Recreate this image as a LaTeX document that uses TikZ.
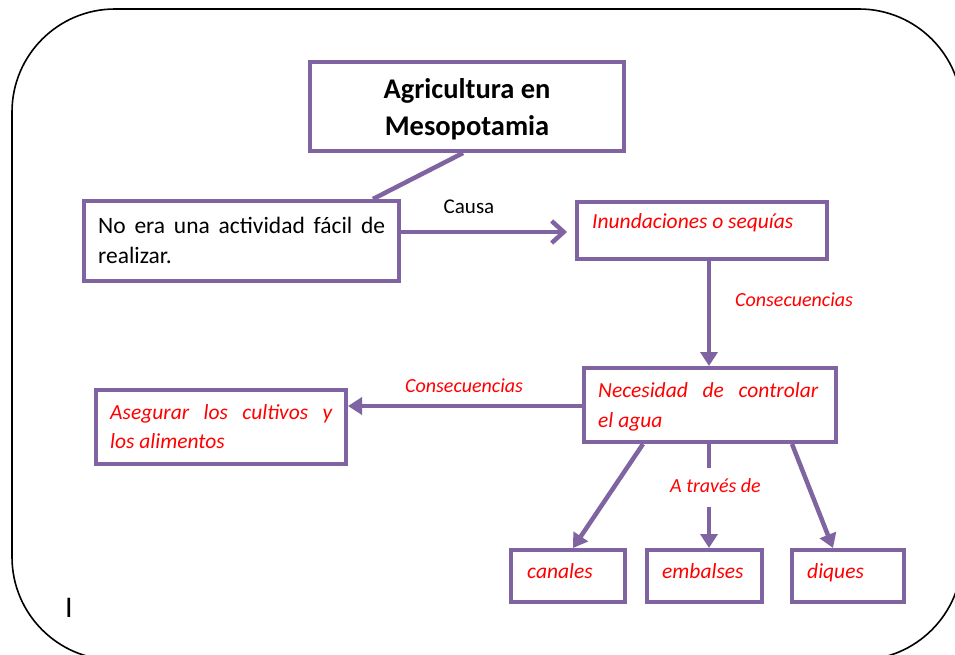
\documentclass[tikz,border=0pt]{standalone}
\usepackage{fontspec}
\setmainfont{Carlito}
\usetikzlibrary{arrows.meta}
\definecolor{pur}{HTML}{8064A2}
\definecolor{rd}{HTML}{FF0000}
\begin{document}
\begin{tikzpicture}[x=1pt,y=-1pt,
  box/.style={draw=pur, line width=4pt, fill=white, inner sep=0pt},
  conn/.style={draw=pur, line width=4.5pt},
  arr/.style={conn, -{Triangle[length=14pt,width=17pt]}},
  barb/.style={conn, -{Straight Barb[length=12pt,width=22pt]}},
  ttl/.style={font=\fontsize{28.5}{30}\selectfont\bfseries, inner sep=0pt, anchor=base},
  txt/.style={font=\fontsize{23.5}{26}\selectfont, inner sep=0pt, anchor=base west},
  lbl/.style={font=\fontsize{21}{22}\selectfont, inner sep=0pt, anchor=base west},
  rtxt/.style={font=\fontsize{21.5}{24}\selectfont\itshape, text=rd, inner sep=0pt, anchor=base west},
  rlbl/.style={rtxt, font=\fontsize{20}{24}\selectfont\itshape}]
\useasboundingbox (0,0) rectangle (955,654);
\clip (0,0) rectangle (955,654);
\fill[white] (0,0) rectangle (955,654);
\draw[line width=1.6pt, rounded corners=103pt] (12,9) rectangle (962,660);

% boxes
\node[box, minimum width=314pt, minimum height=89pt] (title) at (467,106.5) {};
\node[box, minimum width=315pt, minimum height=80pt] (noera) at (241.5,241) {};
\node[box, minimum width=250pt, minimum height=57pt] (inund) at (702,230.5) {};
\node[box, minimum width=252pt, minimum height=74pt] (neces) at (710,405) {};
\node[box, minimum width=250pt, minimum height=74pt] (aseg) at (221,427) {};
\node[box, minimum width=114pt, minimum height=52pt] (canales) at (568,576) {};
\node[box, minimum width=115pt, minimum height=52pt] (emb) at (704.5,576) {};
\node[box, minimum width=112pt, minimum height=52pt] (diques) at (848,576) {};

% texts
\node[ttl] (t1) at (467,98) {Agricultura en};
\node[ttl] (t2) at (467,135) {Mesopotamia};
\node[txt] (n1) at (98,233) {\makebox[287pt][s]{No era una actividad fácil de}};
\node[txt] (n2) at (98,263) {realizar.};
\node[lbl, anchor=base] (causa) at (469,213) {Causa};
\node[rtxt] (i1) at (592,228) {Inundaciones o sequías};
\node[rlbl] (c1) at (735,306) {Consecuencias};
\node[rtxt] (ne1) at (598,397) {\makebox[220pt][s]{Necesidad de controlar}};
\node[rtxt] (ne2) at (598,427) {el agua};
\node[rlbl] (c2) at (405,392) {Consecuencias};
\node[rtxt] (a1) at (110,419) {\makebox[222pt][s]{Asegurar los cultivos y}};
\node[rtxt] (a2) at (110,448) {los alimentos};
\node[rlbl] (atv) at (670,492) {A través de};
\node[rtxt] (tc) at (527,578) {canales};
\node[rtxt] (te) at (662,578) {embalses};
\node[rtxt] (td) at (807,578) {diques};
\node[font=\fontsize{30}{30}\selectfont, inner sep=0pt, anchor=base west] (cur) at (65,617) {I};

% connectors
\draw[conn] ([xshift=-4pt]title.south) -- ([xshift=131.5pt]noera.north);
\draw[barb, shorten >=8pt] ([yshift=9pt]noera.east) -- ([yshift=9pt]noera.east -| inund.west);
\draw[arr] ([xshift=7pt]inund.south) -- ([xshift=7pt]inund.south |- neces.north);
\draw[arr] ([yshift=-1pt]neces.west) -- ([yshift=-1pt]neces.west -| aseg.east);
\draw[arr] ([xshift=-67pt]neces.south) -- ([xshift=5pt]canales.north);
\draw[conn] ([xshift=-1pt]neces.south) -- ([xshift=-1pt,yshift=-24pt]neces.south);
\draw[arr] ([xshift=4.5pt,yshift=41pt]emb.north) -- ([xshift=4.5pt]emb.north);
\draw[arr] ([xshift=82pt]neces.south) -- ([xshift=-15pt]diques.north);
\end{tikzpicture}
\end{document}
